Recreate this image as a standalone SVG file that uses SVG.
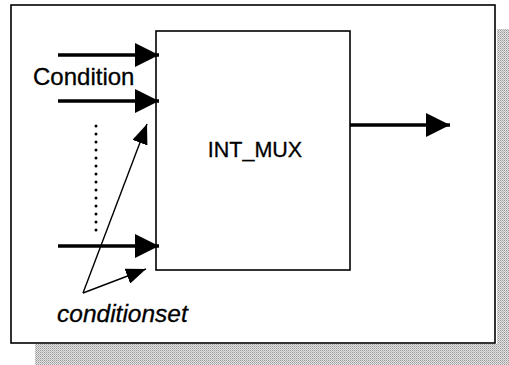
<svg xmlns="http://www.w3.org/2000/svg" width="509" height="365" viewBox="0 0 509 365">
  <style>
    .frame { fill: #ffffff; stroke: #000000; stroke-width: 1.6; }
    .bus { stroke: #000000; stroke-width: 3.5; fill: none; }
    .thin { stroke: #000000; stroke-width: 1.4; fill: none; }
    .dots { stroke: #000000; stroke-width: 3; stroke-linecap: round; stroke-dasharray: 0 8; fill: none; }
    .lbl { font-family: "Liberation Sans", Arial, sans-serif; fill: #000000; stroke: #000000; stroke-width: 0.3; }
  </style>
  <defs>
    <pattern id="dither" width="2" height="2" patternUnits="userSpaceOnUse">
      <rect width="2" height="2" fill="#e2e2e2"/>
      <rect width="1" height="1" fill="#9a9a9a"/>
      <rect x="1" y="1" width="1" height="1" fill="#b8b8b8"/>
    </pattern>
    <marker id="bigHead" viewBox="0 0 24 24" refX="24" refY="12" markerWidth="24" markerHeight="25" markerUnits="userSpaceOnUse" orient="auto">
      <path d="M0,0 L24,12 L0,24 Z" fill="#000000"/>
    </marker>
    <marker id="smallHead" viewBox="0 0 20 16" refX="20" refY="8" markerWidth="20" markerHeight="16" markerUnits="userSpaceOnUse" orient="auto">
      <path d="M0,0 L20,8 L0,16 Z" fill="#000000"/>
    </marker>
  </defs>

  <!-- drop shadow of the frame -->
  <rect x="497" y="29" width="12" height="336" fill="url(#dither)"/>
  <rect x="35" y="344" width="474" height="21" fill="url(#dither)"/>

  <!-- outer frame -->
  <rect class="frame" x="11" y="5" width="484" height="338"/>

  <g id="int_mux">
    <rect class="frame" x="156" y="31" width="194" height="239"/>
    <text class="lbl" x="255" y="157" font-size="21.5" text-anchor="middle">INT_MUX</text>
  </g>

  <g id="condition_label">
    <text class="lbl" x="33" y="85" font-size="24">Condition</text>
  </g>

  <g id="conditionset_label">
    <text class="lbl" x="57" y="322" font-size="24.5" font-style="italic">conditionset</text>
  </g>

  <g id="connectors">
    <!-- condition inputs -->
    <line class="bus" x1="58" y1="55" x2="159" y2="55" marker-end="url(#bigHead)"/>
    <line class="bus" x1="58" y1="101" x2="159" y2="101" marker-end="url(#bigHead)"/>
    <line class="bus" x1="58" y1="246" x2="159" y2="246" marker-end="url(#bigHead)"/>
    <!-- ellipsis between inputs -->
    <line class="dots" x1="96" y1="126" x2="96" y2="232"/>
    <!-- output -->
    <line class="bus" x1="350" y1="125" x2="450" y2="125" marker-end="url(#bigHead)"/>
    <!-- conditionset pointers -->
    <line class="thin" x1="83" y1="293" x2="147" y2="124" marker-end="url(#smallHead)"/>
    <line class="thin" x1="83" y1="293" x2="146" y2="269" marker-end="url(#smallHead)"/>
  </g>
</svg>
